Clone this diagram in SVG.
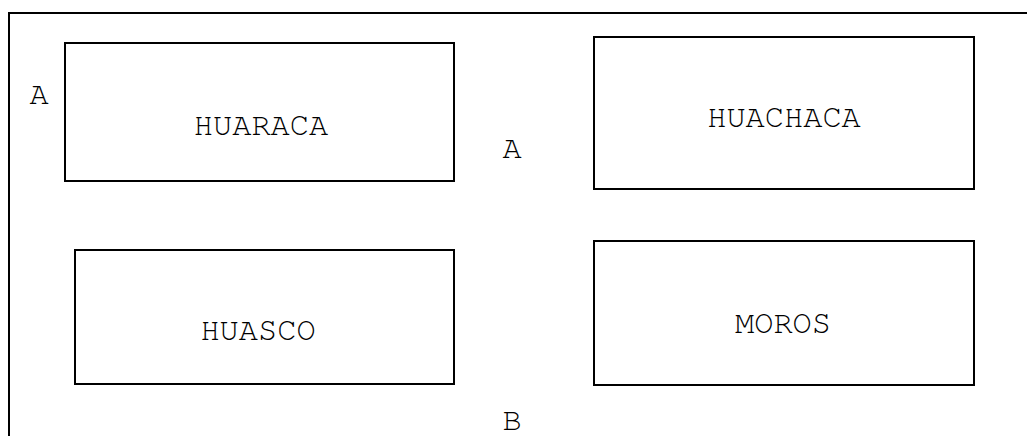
<svg xmlns="http://www.w3.org/2000/svg" width="1027" height="436" viewBox="0 0 1027 436">
<style>
.box{fill:#fff;stroke:#000;stroke-width:2}
.t{font-family:"Nimbus Mono PS","FreeMono","Courier","Liberation Mono",monospace;font-size:32px;fill:#000;text-anchor:middle}
</style>
<rect width="1027" height="436" fill="#fff"/>
<g id="frame"><path d="M9,436 V13 H1027" fill="none" stroke="#000" stroke-width="2"/></g>
<g id="huaraca"><rect class="box" x="65" y="43" width="389" height="138"/><text class="t" x="261" y="135">HUARACA</text></g>
<g id="huachaca"><rect class="box" x="594" y="37" width="380" height="152"/><text class="t" x="784" y="127">HUACHACA</text></g>
<g id="huasco"><rect class="box" x="75" y="250" width="379" height="134"/><text class="t" x="258" y="340">HUASCO</text></g>
<g id="moros"><rect class="box" x="594" y="241" width="380" height="144"/><text class="t" x="783" y="333">MOROS</text></g>
<g id="labels">
<text class="t" x="39" y="104">A</text>
<text class="t" x="512" y="158">A</text>
<text class="t" x="512" y="430">B</text>
</g>
</svg>
